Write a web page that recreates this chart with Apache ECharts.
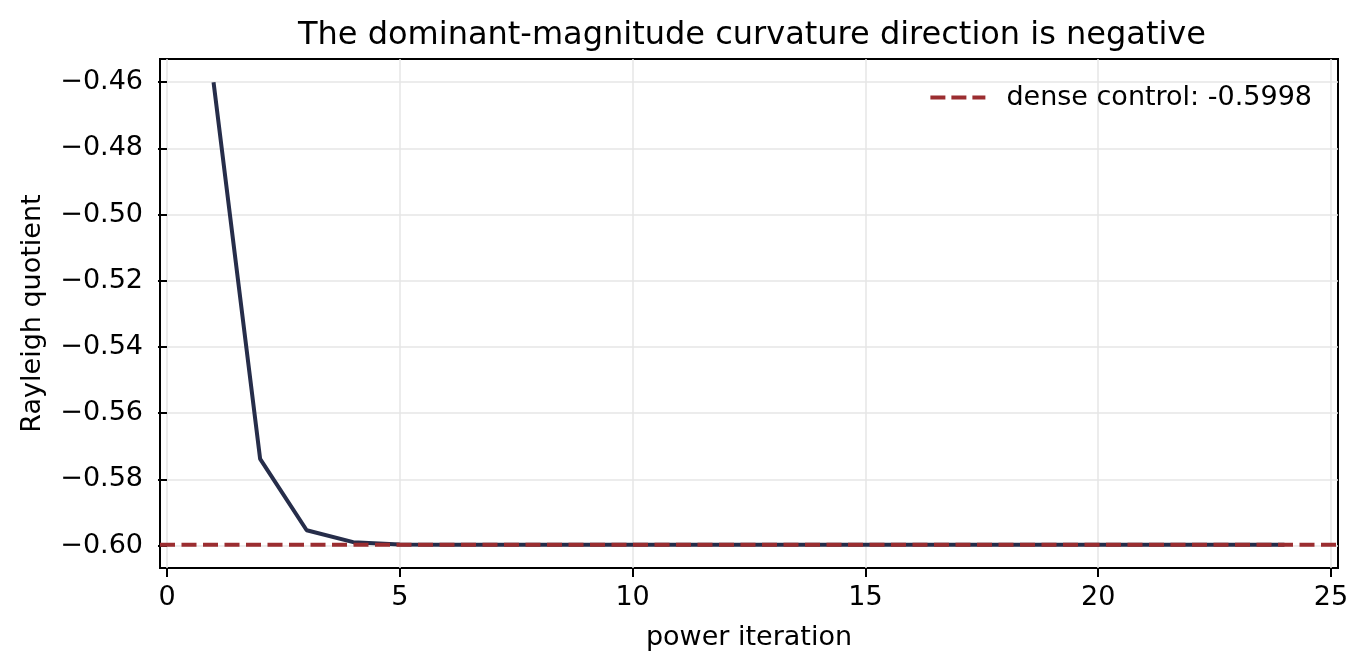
<!DOCTYPE html>
<html>
<head>
<meta charset="utf-8">
<script src="https://cdn.jsdelivr.net/npm/echarts@6/dist/echarts.min.js"></script>
<style>html,body{margin:0;padding:0;background:#fff;}#chart{width:1367px;height:672px;}</style>
</head>
<body>
<div id="chart"></div>
<script>
const iterations = [1,2,3,4,5,6,7,8,9,10,11,12,13,14,15,16,17,18,19,20,21,22,23,24];
const rayleigh = [-0.4600,-0.5738,-0.5954,-0.5990,-0.5997,-0.5998,-0.5998,-0.5998,-0.5998,-0.5998,-0.5998,-0.5998,-0.5998,-0.5998,-0.5998,-0.5998,-0.5998,-0.5998,-0.5998,-0.5998,-0.5998,-0.5998,-0.5998,-0.5998];
const denseControl = -0.5998;
const xTicks = [0,5,10,15,20,25];
const yTicks = [-0.60,-0.58,-0.56,-0.54,-0.52,-0.50,-0.48,-0.46];
const xRange = [-0.15, 25.15];
const yRange = [-0.6068, -0.4530];

const FONT = 'DejaVu Sans';
const chart = echarts.init(document.getElementById('chart'), null, {renderer:'canvas'});
const fmtY = v => (v < 0 ? '\u2212' : '') + Math.abs(v).toFixed(2);
const dashIcon = 'path://M0,0h15v4h-15z M21,0h15v4h-15z M42,0h13v4h-13z';

chart.setOption({
  animation: false,
  backgroundColor: '#fff',
  title: {
    text: 'The dominant-magnitude curvature direction is negative',
    left: 747, top: 15, textAlign: 'center',
    textStyle: {fontFamily: FONT, fontSize: 32, fontWeight: 'normal', color: '#000'}
  },
  legend: {
    right: 50, top: 79,
    itemWidth: 55, itemHeight: 4,
    data: [{name: 'dense control: -0.5998', icon: dashIcon}],
    itemStyle: {color: '#9b2d30'},
    textStyle: {fontFamily: FONT, fontSize: 27, color: '#000', padding: [0,0,0,16]}
  },
  grid: {left: 160, right: 29, top: 59, bottom: 104, show: true, borderColor: '#000', borderWidth: 2, backgroundColor: 'transparent'},
  xAxis: {
    type: 'value', min: xRange[0], max: xRange[1],
    name: 'power iteration', nameLocation: 'middle', nameGap: 56,
    nameTextStyle: {fontFamily: FONT, fontSize: 27, color: '#000'},
    axisLine: {show: false},
    axisTick: {show: true, length: 9, lineStyle: {color: '#000', width: 2}, customValues: xTicks},
    axisLabel: {fontFamily: FONT, fontSize: 27, color: '#000', margin: 16, customValues: xTicks},
    splitLine: {show: true, lineStyle: {color: '#e6e6e6', width: 1.5}}
  },
  yAxis: {
    type: 'value', min: yRange[0], max: yRange[1],
    name: 'Rayleigh quotient', nameLocation: 'middle', nameGap: 114, nameRotate: 90,
    nameTextStyle: {fontFamily: FONT, fontSize: 27, color: '#000'},
    axisLine: {show: false},
    axisTick: {show: true, length: 9, lineStyle: {color: '#000', width: 2}, customValues: yTicks},
    axisLabel: {fontFamily: FONT, fontSize: 27, color: '#000', margin: 17, formatter: fmtY, customValues: yTicks},
    splitLine: {show: true, lineStyle: {color: '#e6e6e6', width: 1.5}}
  },
  series: [
    {
      name: 'rayleigh', type: 'line', symbol: 'none',
      data: iterations.map((x, i) => [x, rayleigh[i]]),
      lineStyle: {color: '#262d4a', width: 4}, itemStyle: {color: '#262d4a'}, z: 2
    },
    {
      name: 'dense control: -0.5998', type: 'line', symbol: 'none',
      data: [[xRange[0], denseControl], [xRange[1], denseControl]],
      lineStyle: {color: '#9b2d30', width: 4, type: [15, 6.5]}, itemStyle: {color: '#9b2d30'}, z: 3
    }
  ]
});
</script>
</body>
</html>
